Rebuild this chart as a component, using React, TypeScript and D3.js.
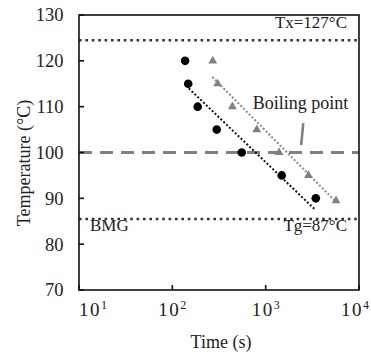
import React from "react";
import * as d3 from "d3";

const circleTimes = [137, 148, 187, 299, 554, 1486, 3443];
const circleTemps = [120, 115, 110, 105, 100, 95, 90];
const triTimes = [271, 306, 440, 802, 1393, 2871, 5675];
const triTemps = [120, 115, 110, 105, 100, 95, 89.5];
const blackTrendTimes = [150, 3400];
const blackTrendTemps = [114, 87.5];
const grayTrendTimes = [268, 5800];
const grayTrendTemps = [116.5, 89];
const yTicks = [70, 80, 90, 100, 110, 120, 130];
const xTickExps = [1, 2, 3, 4];
const txLevel = 124.5;
const tgLevel = 85.5;
const boilLevel = 100;
const txLabel = "Tx=127°C";
const tgLabel = "Tg=87°C";
const bmgLabel = "BMG";
const boilLabel = "Boiling point";
const markerTimes = [2530, 2400];
const markerTemps = [106.4, 101.6];
const xTitle = "Time (s)";
const yTitle = "Temperature (°C)";

const W = 371;
const H = 356;
const M = { left: 79, right: 12, top: 15, bottom: 66 };
const FONT = "Liberation Serif, Times New Roman, DejaVu Serif, serif";
const TEXT = "#222";
const ts = { fontFamily: FONT };

export default function App() {
  const x = d3.scaleLog().domain([10, 10000]).range([M.left, W - M.right]);
  const y = d3.scaleLinear().domain([70, 130]).range([H - M.bottom, M.top]);
  const [x0, x1] = x.range();
  const [yb, yt] = y.range();

  const line = d3
    .line<[number, number]>()
    .x((d) => x(d[0]))
    .y((d) => y(d[1]));

  const blackTrend = blackTrendTimes.map((t, i) => [t, blackTrendTemps[i]] as [number, number]);
  const grayTrend = grayTrendTimes.map((t, i) => [t, grayTrendTemps[i]] as [number, number]);
  const marker = markerTimes.map((t, i) => [t, markerTemps[i]] as [number, number]);
  const tri = d3.symbol().type(d3.symbolTriangle).size(34)();

  return (
    <svg
      width={W}
      height={H}
      style={{ position: "absolute", left: 0, top: 0, background: "#fff", fontFamily: FONT }}
    >
      <rect x={0} y={0} width={W} height={H} fill="#fff" />
      {/* reference lines */}
      <line x1={x0} x2={x1} y1={y(txLevel)} y2={y(txLevel)} stroke="#333" strokeWidth={2.6} strokeDasharray="2.6 3.8" />
      <line x1={x0} x2={x1} y1={y(tgLevel)} y2={y(tgLevel)} stroke="#333" strokeWidth={2.6} strokeDasharray="2.6 3.8" />
      <line x1={x0} x2={x1} y1={y(boilLevel)} y2={y(boilLevel)} stroke="#808080" strokeWidth={3} strokeDasharray="13 8" />

      {/* trend lines */}
      <path d={line(blackTrend) || ""} fill="none" stroke="#111" strokeWidth={2} strokeDasharray="2 2" />
      <path d={line(grayTrend) || ""} fill="none" stroke="#8a8a8a" strokeWidth={2} strokeDasharray="2 2" />

      {/* markers */}
      {circleTimes.map((t, i) => (
        <circle key={"c" + i} cx={x(t)} cy={y(circleTemps[i])} r={4.3} fill="#000" />
      ))}
      {triTimes.map((t, i) => (
        <path key={"t" + i} d={tri || ""} transform={`translate(${x(t)},${y(triTemps[i])})`} fill="#808080" />
      ))}

      {/* boiling point pointer */}
      <path d={line(marker) || ""} stroke="#808080" strokeWidth={2.6} fill="none" />

      {/* annotations */}
      <text style={ts} x={x1 - 12} y={yt + 13} textAnchor="end" fontSize={17} fill={TEXT}>{txLabel}</text>
      <text style={ts} x={x1 - 12} y={y(tgLevel) + 12.5} textAnchor="end" fontSize={17} fill={TEXT}>{tgLabel}</text>
      <text style={ts} x={x0 + 11} y={y(tgLevel) + 12.5} textAnchor="start" fontSize={17} fill={TEXT}>{bmgLabel}</text>
      <text style={ts} x={300.5} y={108.5} textAnchor="middle" fontSize={18} fill={TEXT}>{boilLabel}</text>

      {/* frame */}
      <rect x={x0} y={yt} width={x1 - x0} height={yb - yt} fill="none" stroke="#111" strokeWidth={1.6} />

      {/* y ticks */}
      {yTicks.map((v) => (
        <g key={"y" + v}>
          <line x1={x0} x2={x0 + 5} y1={y(v)} y2={y(v)} stroke="#111" strokeWidth={1.6} />
          <text style={ts} x={63.5} y={y(v)} dy="0.35em" textAnchor="end" fontSize={18.5} fill={TEXT}>{v}</text>
        </g>
      ))}

      {/* x ticks */}
      {xTickExps.map((e, i) => {
        const v = Math.pow(10, e);
        const off = i === 0 ? 14 : i === xTickExps.length - 1 ? -4 : 0;
        return (
          <g key={"x" + e}>
            <line x1={x(v)} x2={x(v)} y1={yb} y2={yb - 5} stroke="#111" strokeWidth={1.6} />
            <text style={ts} x={x(v) + off} y={316} textAnchor="middle" fontSize={19} fill={TEXT}>
              <tspan letterSpacing={1.5}>10</tspan>
              <tspan fontSize={12} dy={-7}>{e}</tspan>
            </text>
          </g>
        );
      })}

      {/* axis titles */}
      <text style={ts} x={(x0 + x1) / 2 + 2} y={348} textAnchor="middle" fontSize={18} fill={TEXT}>{xTitle}</text>
      <text style={ts} transform={`translate(30,163) rotate(-90)`} textAnchor="middle" fontSize={18} fill={TEXT}>{yTitle}</text>
    </svg>
  );
}
